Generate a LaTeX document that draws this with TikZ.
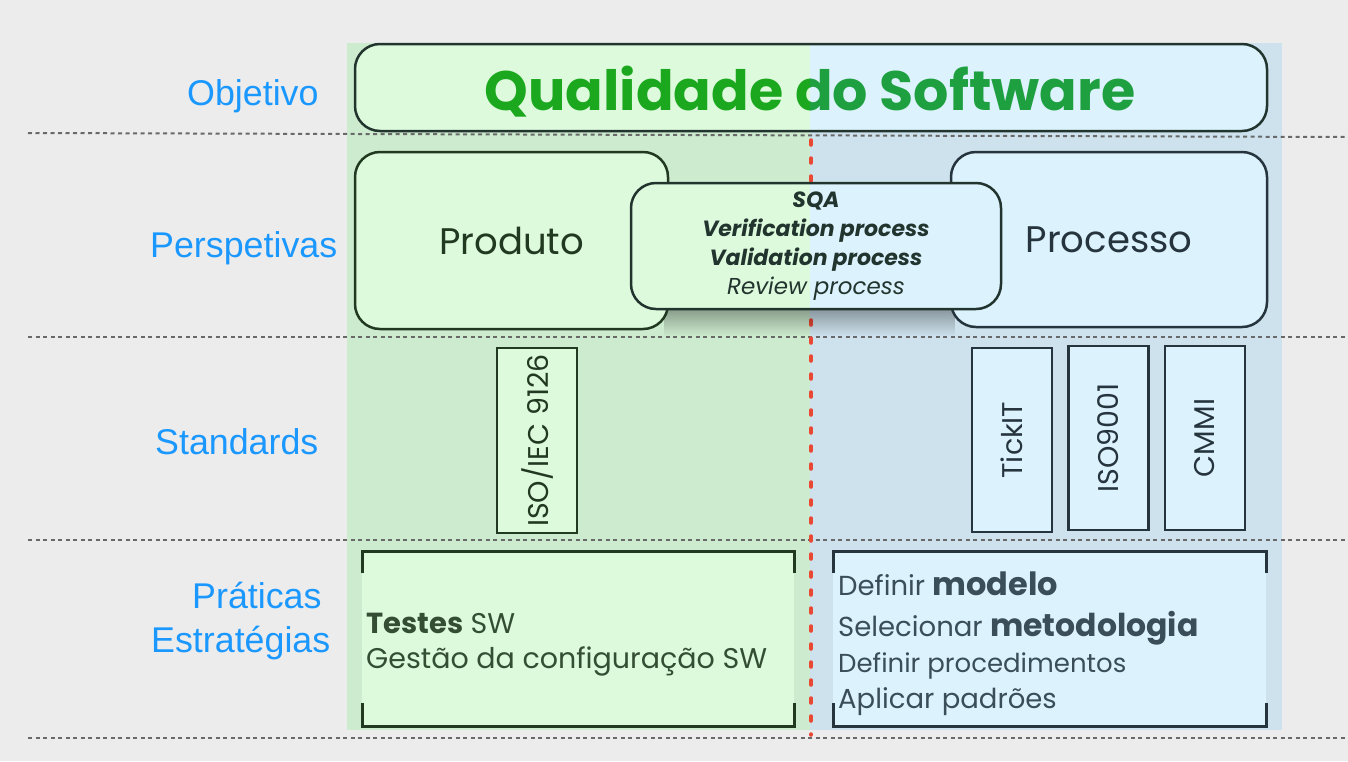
\documentclass[tikz,border=0pt]{standalone}
\usepackage{fontspec}
\setmainfont{Poppins}
\newfontfamily\lblfont{Liberation Sans}
\usetikzlibrary{fadings}
\definecolor{bgc}{RGB}{236,236,236}
\definecolor{gcol}{RGB}{205,235,207}
\definecolor{bcol}{RGB}{205,226,237}
\definecolor{gbox}{RGB}{221,250,221}
\definecolor{bbox}{RGB}{220,242,253}
\definecolor{gdark}{RGB}{33,56,33}
\definecolor{bdark}{RGB}{38,52,62}
\definecolor{mdark}{RGB}{34,52,46}
\definecolor{gtext}{RGB}{52,78,52}
\definecolor{btext}{RGB}{58,78,90}
\definecolor{lblc}{RGB}{27,152,255}
\definecolor{titleg}{RGB}{27,168,30}
\definecolor{titleb}{RGB}{31,160,64}
\definecolor{redl}{RGB}{232,72,52}
\definecolor{greyl}{RGB}{105,105,105}
\tikzset{
  rowline/.style={greyl, line width=2pt, dash pattern=on 4pt off 3.5pt},
  lbl/.style={font=\lblfont\fontsize{35.8}{40}\selectfont, text=lblc, inner sep=0pt, anchor=base west},
  gframe/.style={draw=gdark, line width=2.5pt, rounded corners=25pt, inner sep=0pt},
  bframe/.style={draw=bdark, line width=2.5pt, rounded corners=25pt, inner sep=0pt},
  bigword/.style={font=\fontsize{37}{42}\selectfont},
  titlestyle/.style={font=\bfseries\fontsize{55.5}{62}\selectfont, inner sep=0pt, anchor=base},
  stdbox/.style={line width=2.5pt, rotate=90, minimum width=184pt, minimum height=80pt, inner sep=0pt, font=\fontsize{28.5}{30}\selectfont},
  bracket/.style={line width=3pt},
  practext/.style={inner sep=0pt, anchor=base west, font=\fontsize{27.5}{30}\selectfont},
}
\begin{document}
\begin{tikzpicture}[x=1pt,y=-1pt]
\useasboundingbox (0,0) rectangle (1348,761);
\fill[bgc] (0,0) rectangle (1348,761);
% columns
\fill[gcol] (347,43) rectangle (810,730);
\fill[bcol] (810,43) rectangle (1282,730);
% row separators
\draw[rowline] (28,133) -- (1348,137);
\draw[rowline] (28,337) -- (1348,337);
\draw[rowline] (28,540) -- (1348,540);
\draw[rowline] (28,738) -- (1348,738);
% red divider
\draw[redl, line width=3.5pt, line cap=round, dash pattern=on 5pt off 13pt] (811,140) -- (811,735);
% row labels
\node[lbl] (lobj) at (187,105.5) {Objetivo};
\node[lbl] (lper) at (150,257.5) {Perspetivas};
\node[lbl] (lstd) at (155,454.5) {Standards};
\node[lbl] (lpra) at (192,608) {Práticas};
\node[lbl] (lest) at (151,652) {Estratégias};
% objective box
\begin{scope}
  \clip[rounded corners=25pt] (355,44) rectangle (1267,131);
  \fill[gbox] (355,44) rectangle (810,131);
  \fill[bbox] (810,44) rectangle (1267,131);
\end{scope}
\node[draw=mdark, line width=2.5pt, rounded corners=25pt, minimum width=912pt, minimum height=87pt, inner sep=0pt] (obj) at (811,87.5) {};
\begin{scope}
  \clip (0,0) rectangle (810,761);
  \node[titlestyle, text=titleg] (title) at (810,110) {Qualidade do Software};
\end{scope}
\begin{scope}
  \clip (810,0) rectangle (1348,761);
  \node[titlestyle, text=titleb] (titleR) at (810,110) {Qualidade do Software};
\end{scope}
% shadow of SQA box
\fill[black, opacity=0.42, path fading=south] (664,302) rectangle (955,336);
% perspectives
\node[gframe, fill=gbox, minimum width=313pt, minimum height=177pt, bigword, text=gdark] (prod) at (511.5,240.5) {Produto};
\node[bframe, fill=bbox, minimum width=316pt, minimum height=175pt, bigword, text=bdark] (proc) at (1109,239.5) {Processo};
\begin{scope}
  \clip[rounded corners=25pt] (632,182) rectangle (1002,308);
  \fill[gbox] (632,182) rectangle (810,308);
  \fill[bbox] (810,182) rectangle (1002,308);
\end{scope}
\node[draw=mdark, line width=2.5pt, rounded corners=25pt, minimum width=370pt, minimum height=126pt, inner sep=0pt, align=center, text=mdark, font=\fontsize{22}{29}\selectfont] (sqa) at (816,246)
  {\textbf{\textit{SQA}}\\ \textbf{\textit{Verification process}}\\ \textbf{\textit{Validation process}}\\ {\fontsize{23}{29}\selectfont\textit{Review process}}};
% standards
\node[stdbox, draw=gdark, fill=gbox, minimum width=185pt, text=gdark] (iso9126) at (537,440.5) {ISO/IEC 9126};
\node[stdbox, draw=bdark, fill=bbox, text=bdark] (tickit) at (1012,440) {TickIT};
\node[stdbox, draw=bdark, fill=bbox, text=bdark] (iso9001) at (1108.5,438) {ISO9001};
\node[stdbox, draw=bdark, fill=bbox, text=bdark] (cmmi) at (1205,438) {CMMI};
% practices: product
\fill[gbox] (362,551) rectangle (794,726);
\draw[bracket, gdark] (362,573) -- (362,551) -- (794,551) -- (794,573);
\draw[bracket, gdark] (362,703) -- (362,726) -- (794,726) -- (794,703);
\node[practext, text=gtext] (testes) at (366,633) {{\bfseries\fontsize{29}{32}\selectfont Testes} {\fontsize{28.5}{30}\selectfont SW}};
\node[practext, text=gtext, font=\fontsize{28.5}{30}\selectfont] (gestao) at (366,668) {Gestão da configuração SW};
% practices: process
\fill[bbox] (833,551) rectangle (1266,726);
\draw[bracket, bdark] (833,573) -- (833,551) -- (1266,551) -- (1266,573);
\draw[bracket, bdark] (833,703) -- (833,726) -- (1266,726) -- (1266,703);
\node[practext, text=btext] (p1) at (838,595) {Definir {\bfseries\fontsize{32}{34}\selectfont modelo}};
\node[practext, text=btext] (p2) at (838,636) {Selecionar {\bfseries\fontsize{31.5}{34}\selectfont metodologia}};
\node[practext, text=btext, font=\fontsize{26}{30}\selectfont] (p3) at (838,672) {Definir procedimentos};
\node[practext, text=btext] (p4) at (838,708) {Aplicar padrões};
\end{tikzpicture}
\end{document}
